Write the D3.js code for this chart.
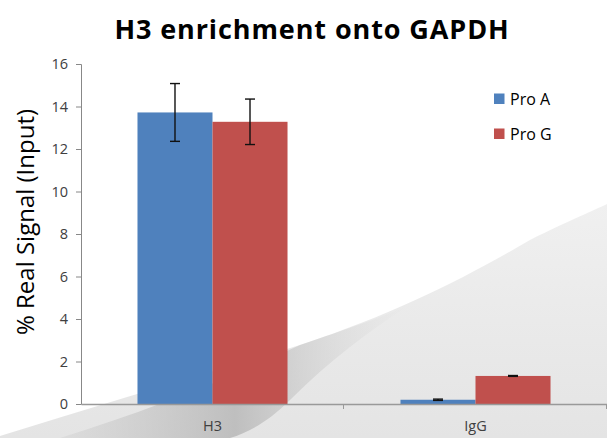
<!DOCTYPE html>
<html><head><meta charset="utf-8">
<script src="https://cdn.jsdelivr.net/npm/d3@7"></script>
<style>body{margin:0;background:#fff}svg{display:block}</style>
</head><body>
<script>
const categories = ["H3", "IgG"];
const seriesNames = ["Pro A", "Pro G"];
const proA = [13.72, 0.2];
const proG = [13.28, 1.32];
const errA = [1.36, 0.03];
const errG = [1.07, 0.02];
const yTicks = [0, 2, 4, 6, 8, 10, 12, 14, 16];
const colors = ["#4f81bd", "#c0504d"];

const W = 607, H = 438;
const svg = d3.select("body").append("svg").attr("width", W).attr("height", H);

// background swoosh
const defs = svg.append("defs");
const g1 = defs.append("linearGradient").attr("id", "sw").attr("x1", "0").attr("y1", "0").attr("x2", "0").attr("y2", "1");
g1.append("stop").attr("offset", "0").attr("stop-color", "#f0f0f0");
g1.append("stop").attr("offset", "1").attr("stop-color", "#e4e4e4");
const g2 = defs.append("linearGradient").attr("id", "fold").attr("x1", "0").attr("y1", "0").attr("x2", "1").attr("y2", "0");
g2.append("stop").attr("offset", "0").attr("stop-color", "#bdbdbd").attr("stop-opacity", 0.2);
g2.append("stop").attr("offset", "0.5").attr("stop-color", "#b5b5b5").attr("stop-opacity", 0.8);
g2.append("stop").attr("offset", "1").attr("stop-color", "#d5d5d5").attr("stop-opacity", 0);
svg.append("path")
  .attr("d", "M0,436 C100,405 200,375 300,345 C400,312 470,275 530,240 C570,220 595,210 607,204 L607,438 L0,438 Z")
  .attr("fill", "url(#sw)");
svg.append("path")
  .attr("d", "M60,438 C150,410 230,378 300,345 C350,328 380,318 410,305 C370,330 330,360 290,400 C270,420 250,432 230,438 Z")
  .attr("fill", "url(#fold)");

const x0 = 81, yTop = 64, yBot = 404;
const x = d3.scaleBand().domain(categories).range([x0, x0 + 2 * 263]).paddingInner(0).paddingOuter(0);
const xs = d3.scaleBand().domain(seriesNames).range([0, x.bandwidth()]).paddingInner(0).paddingOuter(0.753);
const y = d3.scaleLinear().domain([0, 16]).range([yBot, yTop]);

// title
svg.append("text").attr("x", 312).attr("y", 39).attr("text-anchor", "middle")
  .attr("font-family", "Open Sans, sans-serif").attr("font-weight", "bold").attr("font-size", 27)
  .attr("letter-spacing", 0.9)
  .attr("fill", "#000").text("H3 enrichment onto GAPDH");

// y axis
const ya = svg.append("g").attr("transform", `translate(${x0},0)`)
  .call(d3.axisLeft(y).tickValues(yTicks).tickSize(5).tickPadding(8));
ya.select(".domain").attr("stroke", "#888");
ya.selectAll(".tick line").attr("stroke", "#888");
ya.selectAll(".tick text").attr("font-family", "Open Sans, sans-serif").attr("font-size", 14.5).attr("fill", "#404040");

svg.append("text").attr("transform", "translate(34,222) rotate(-90)").attr("text-anchor", "middle")
  .attr("font-family", "Open Sans, sans-serif").attr("font-size", 24).attr("fill", "#000")
  .text("% Real Signal (Input)");

// bars
const data = categories.map((c, i) => ({ c, vals: [proA[i], proG[i]], errs: [errA[i], errG[i]] }));
const groups = svg.selectAll(".grp").data(data).enter().append("g")
  .attr("transform", d => `translate(${x(d.c)},0)`);
groups.selectAll("rect").data(d => d.vals.map((v, j) => ({ v, j, e: d.errs[j] }))).enter().append("rect")
  .attr("x", d => xs(seriesNames[d.j])).attr("width", xs.bandwidth())
  .attr("y", d => y(d.v)).attr("height", d => y(0) - y(d.v))
  .attr("fill", d => colors[d.j]);
const cx = d => xs(seriesNames[d.j]) + xs.bandwidth() / 2;
const eb = groups.selectAll(".err").data(d => d.vals.map((v, j) => ({ v, j, e: d.errs[j] }))).enter().append("g")
  .attr("stroke", "#111").attr("stroke-width", 1.4);
eb.append("line").attr("x1", cx).attr("x2", cx)
  .attr("y1", d => y(d.v + d.e)).attr("y2", d => y(d.v - d.e));
eb.append("line").attr("x1", d => cx(d) - 5).attr("x2", d => cx(d) + 5)
  .attr("y1", d => y(d.v + d.e)).attr("y2", d => y(d.v + d.e));
eb.append("line").attr("x1", d => cx(d) - 5).attr("x2", d => cx(d) + 5)
  .attr("y1", d => y(d.v - d.e)).attr("y2", d => y(d.v - d.e));

// x axis
const xa = svg.append("g").attr("transform", `translate(0,${yBot})`)
  .call(d3.axisBottom(x).tickSize(0).tickPadding(17));
xa.select(".domain").attr("stroke", "#999").attr("stroke-width", 1.3);
xa.selectAll(".tick text").attr("font-family", "Open Sans, sans-serif").attr("font-size", 14.5).attr("fill", "#404040");
[x("H3") + x.bandwidth(), x("IgG") + x.bandwidth()].forEach(px => {
  svg.append("line").attr("x1", px - 0.5).attr("x2", px - 0.5).attr("y1", yBot).attr("y2", yBot + 5).attr("stroke", "#999");
});

// legend
const lg = svg.append("g").attr("transform", "translate(494,93.5)");
seriesNames.forEach((n, i) => {
  lg.append("rect").attr("x", 0).attr("y", i * 35).attr("width", 10.5).attr("height", 10.5).attr("fill", colors[i]);
  lg.append("text").attr("x", 16).attr("y", i * 35 + 11).attr("font-family", "Open Sans, sans-serif")
    .attr("font-size", 16).attr("fill", "#000").text(n);
});
</script>
</body></html>
